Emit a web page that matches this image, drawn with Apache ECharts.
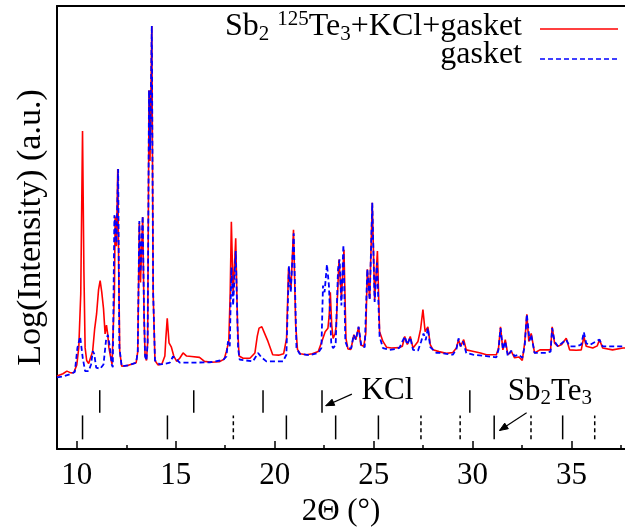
<!DOCTYPE html>
<html>
<head>
<meta charset="utf-8">
<script src="https://cdn.jsdelivr.net/npm/echarts@6/dist/echarts.min.js"></script>
<style>
html, body { margin: 0; padding: 0; background: #fff; }
#chart { width: 625px; height: 532px; }
</style>
</head>
<body>
<div id="chart"></div>
<script>
// 2Theta positions and log intensity (arbitrary units)
const redX = [9.0, 9.3, 9.5, 9.7, 9.85, 10.0, 10.1, 10.2, 10.29, 10.36, 10.42, 10.5, 10.6, 10.7, 10.8, 10.9, 11.0, 11.1, 11.18, 11.26,
  11.35, 11.43, 11.5, 11.56, 11.62, 11.7, 11.78, 11.85, 11.9, 11.94, 12.0, 12.07, 12.12, 12.17, 12.27, 12.6, 13.0, 13.08, 13.16, 13.22,
  13.33, 13.4, 13.45, 13.52, 13.58, 13.65, 13.7, 13.79, 13.86, 13.95, 14.1, 14.3, 14.45, 14.5, 14.57, 14.66, 14.78, 14.9, 15.05, 15.2,
  15.37, 15.55, 15.8, 16.2, 16.45, 16.8, 17.2, 17.45, 17.56, 17.68, 17.75, 17.81, 17.9, 18.03, 18.12, 18.2, 18.4, 18.75, 19.0, 19.12,
  19.21, 19.35, 19.5, 19.66, 19.9, 20.2, 20.45, 20.6, 20.7, 20.82, 20.95, 21.06, 21.15, 21.3, 21.6, 21.9, 22.2, 22.4, 22.55, 22.69,
  22.75, 22.81, 22.88, 22.95, 23.05, 23.11, 23.25, 23.37, 23.5, 23.6, 23.7, 23.85, 24.0, 24.1, 24.24, 24.35, 24.5, 24.6, 24.68, 24.8,
  24.93, 25.05, 25.19, 25.3, 25.47, 25.65, 25.9, 26.3, 26.45, 26.57, 26.7, 26.85, 26.99, 27.24, 27.37, 27.49, 27.6, 27.74, 27.86, 28.0,
  28.3, 28.67, 29.0, 29.18, 29.29, 29.39, 29.55, 29.68, 30.0, 30.4, 30.7, 31.2, 31.31, 31.41, 31.53, 31.65, 31.78, 31.95, 32.12, 32.34,
  32.51, 32.63, 32.74, 32.84, 32.96, 33.13, 33.4, 33.72, 33.94, 34.02, 34.14, 34.31, 34.5, 34.73, 34.9, 35.24, 35.49, 35.62, 35.74, 36.07,
  36.3, 36.41, 36.57, 37.07, 37.6, 37.7];
const redY = [16.5, 17.0, 17.6, 17.2, 17.3, 19.0, 22.9, 35.0, 71.8, 40.0, 22.9, 20.0, 19.3, 19.2, 22.0, 27.0, 30.5, 36.0, 38.0, 35.5,
  31.7, 26.0, 28.0, 26.0, 23.0, 21.0, 19.1, 18.8, 35.0, 52.5, 45.8, 63.2, 40.0, 22.0, 18.7, 18.9, 19.5, 22.0, 51.0, 37.6,
  52.4, 30.0, 21.0, 20.0, 24.0, 81.0, 65.0, 95.5, 35.0, 20.0, 19.0, 19.2, 21.0, 25.0, 29.5, 24.0, 23.0, 21.0, 19.8, 20.5,
  21.7, 21.0, 20.9, 20.7, 19.8, 19.6, 19.7, 20.3, 22.1, 24.3, 35.0, 51.3, 34.7, 47.6, 28.0, 21.0, 20.5, 20.5, 21.7, 25.5,
  27.3, 27.6, 26.0, 24.3, 21.3, 21.2, 21.5, 25.0, 41.0, 36.0, 49.5, 28.0, 22.5, 21.5, 21.3, 21.5, 22.0, 24.5, 26.5, 27.3,
  30.0, 35.4, 28.0, 25.0, 26.0, 28.0, 42.8, 33.9, 45.0, 25.0, 22.6, 22.5, 25.8, 24.7, 27.6, 23.5, 23.2, 26.0, 40.6, 33.9,
  55.6, 33.6, 44.7, 26.5, 24.3, 23.0, 22.8, 22.9, 23.2, 25.4, 23.6, 25.4, 22.8, 24.3, 27.0, 31.5, 26.5, 27.6, 23.6, 22.4,
  22.0, 21.6, 21.8, 22.8, 24.7, 23.2, 24.7, 22.4, 22.1, 21.7, 21.3, 21.3, 22.8, 27.6, 22.4, 24.7, 21.3, 22.1, 20.6, 20.8,
  20.0, 23.9, 30.4, 24.3, 26.1, 21.7, 22.4, 22.4, 22.4, 27.6, 23.9, 23.2, 23.6, 25.0, 22.4, 22.3, 22.4, 25.4, 23.2, 22.8,
  23.3, 24.7, 22.8, 22.4, 22.8, 22.8];

const blueX = [9.0, 9.3, 9.66, 9.9, 10.03, 10.17, 10.3, 10.42, 10.6, 10.72, 10.81, 10.88, 10.98, 11.18, 11.35, 11.48, 11.57, 11.68, 11.77, 11.82,
  11.9, 12.0, 12.09, 12.15, 12.27, 12.6, 13.0, 13.08, 13.16, 13.22, 13.33, 13.4, 13.45, 13.52, 13.58, 13.65, 13.71, 13.79, 13.86, 13.95,
  14.2, 14.5, 14.7, 14.86, 15.03, 15.2, 15.87, 16.72, 17.39, 17.56, 17.64, 17.73, 17.81, 17.9, 18.03, 18.15, 18.23, 18.9, 19.16, 19.33,
  19.58, 20.42, 20.59, 20.72, 20.81, 20.96, 21.1, 21.26, 21.77, 22.19, 22.36, 22.44, 22.52, 22.64, 22.74, 22.86, 22.95, 23.08, 23.2, 23.28,
  23.37, 23.47, 23.57, 23.7, 23.87, 23.99, 24.1, 24.24, 24.38, 24.55, 24.68, 24.8, 24.93, 25.05, 25.17, 25.3, 25.47, 25.81, 26.15, 26.31,
  26.57, 26.7, 26.85, 26.99, 27.24, 27.4, 27.52, 27.63, 27.74, 27.86, 28.17, 28.33, 29.0, 29.18, 29.29, 29.39, 29.52, 29.68, 30.02, 30.69,
  31.2, 31.31, 31.41, 31.53, 31.65, 31.78, 31.95, 32.12, 32.34, 32.51, 32.63, 32.74, 32.88, 32.96, 33.13, 33.72, 33.94, 34.02, 34.14, 34.31,
  34.73, 34.9, 35.24, 35.49, 35.62, 35.74, 35.91, 36.41, 36.57, 37.07, 37.6, 37.7];
const blueY = [16.2, 16.4, 16.9, 17.4, 22.8, 25.4, 20.6, 17.6, 17.6, 19.1, 22.1, 21.5, 18.4, 18.1, 19.1, 24.7, 25.8, 22.8, 19.0, 18.5,
  52.8, 46.5, 63.2, 23.0, 18.7, 18.9, 19.5, 22.0, 51.5, 40.0, 52.6, 30.0, 21.0, 20.0, 24.0, 81.0, 67.5, 95.5, 35.0, 20.0,
  19.1, 19.3, 19.5, 20.9, 20.3, 19.5, 19.5, 19.6, 20.1, 20.9, 24.3, 23.2, 41.0, 32.4, 44.7, 22.8, 20.2, 19.8, 21.7, 20.7,
  19.8, 19.8, 21.3, 41.3, 35.4, 48.7, 22.8, 21.5, 21.2, 21.7, 22.8, 36.9, 35.4, 41.7, 36.9, 23.6, 22.8, 23.5, 40.6, 42.8,
  32.4, 46.1, 24.3, 22.7, 22.8, 25.8, 24.7, 27.6, 23.2, 23.0, 40.6, 33.6, 55.6, 33.2, 42.1, 25.4, 22.8, 22.4, 22.6, 22.9,
  25.4, 23.6, 25.2, 22.4, 22.2, 24.3, 26.1, 24.6, 27.3, 23.0, 21.7, 21.7, 21.3, 22.5, 25.0, 23.2, 24.3, 21.7, 21.3, 21.0,
  20.7, 22.5, 27.3, 22.5, 24.3, 21.0, 22.2, 21.0, 21.3, 20.6, 23.2, 30.4, 24.5, 25.8, 21.7, 21.7, 22.0, 27.3, 24.3, 23.2,
  24.7, 23.2, 23.2, 23.6, 26.4, 23.9, 23.5, 24.7, 23.2, 23.2, 23.2, 23.2];

// reference reflection positions
const kclPeaks = [11.16, 15.91, 19.41, 22.39, 29.86];
const sbTePeaks = [10.29, 14.58, 20.59, 23.08, 25.24, 31.09, 34.55];
const sbTeWeak = [17.91, 27.39, 29.37, 32.95, 36.17];
const kclRow = [8.2, 13.3];
const sbTeRow = [2.2, 7.6];

// annotation arrows [x0, y0, x1(tip), y1(tip)] and label anchors
const arrows = [[23.9, 12.4, 22.58, 9.8], [32.73, 8.2, 31.36, 4.2]];
const labels = [[24.39, 13.2, '{n|KCl}'], [31.77, 13.0, '{n|Sb}{sub|2}{n|Te}{sub|3}']];

const majorTicks = [10, 15, 20, 25, 30, 35];
const minorTicks = [12.5, 17.5, 22.5, 27.5, 32.5, 37.5];

const FONT = 'Liberation Serif';

const rich = {
  n: { fontSize: 31, fontFamily: FONT, color: '#000', lineHeight: 34 },
  sub: { fontSize: 21, fontFamily: FONT, color: '#000', lineHeight: 16, verticalAlign: 'bottom' },
  sup: { fontSize: 21, fontFamily: FONT, color: '#000', lineHeight: 22, verticalAlign: 'top' }
};
const legendRich = {
  n: { fontSize: 32, fontFamily: FONT, color: '#000', lineHeight: 36 },
  sub: { fontSize: 21, fontFamily: FONT, color: '#000', lineHeight: 17, verticalAlign: 'bottom' },
  sup: { fontSize: 21, fontFamily: FONT, color: '#000', lineHeight: 23, verticalAlign: 'top' }
};

function zip(xs, ys) {
  return xs.map((x, i) => [x, ys[i]]);
}

function tickSeries(xs, row, dashed) {
  return {
    type: 'custom',
    silent: true,
    data: xs.map(x => [x, row[0], row[1]]),
    encode: { x: 0, y: [1, 2] },
    renderItem: function (params, api) {
      const p0 = api.coord([api.value(0), api.value(1)]);
      const p1 = api.coord([api.value(0), api.value(2)]);
      return {
        type: 'line',
        shape: { x1: p0[0], y1: p0[1], x2: p1[0], y2: p1[1] },
        style: { stroke: '#000', lineWidth: 1.5, lineDash: dashed ? [4, 3] : null }
      };
    }
  };
}

var myChart = echarts.init(document.getElementById('chart'), null, { renderer: 'canvas' });
var option = {
  animation: false,
  backgroundColor: '#fff',
  textStyle: { fontFamily: FONT },
  grid: { left: 57, right: 0, top: 6, bottom: 76, containLabel: false },
  xAxis: [
    {
      type: 'value', min: 9, max: 37.7, position: 'bottom',
      name: '2\u0398 (\u00b0)', nameLocation: 'middle', nameGap: 42,
      nameTextStyle: { fontSize: 31, fontFamily: FONT, color: '#000' },
      axisLine: { onZero: false, lineStyle: { color: '#000', width: 2 } },
      axisTick: { inside: true, length: 8, customValues: majorTicks, lineStyle: { color: '#000', width: 1.5 } },
      axisLabel: { customValues: majorTicks, fontSize: 31, fontFamily: FONT, color: '#000', margin: 11 },
      splitLine: { show: false }
    },
    {
      type: 'value', min: 9, max: 37.7, position: 'bottom',
      axisLine: { show: false, onZero: false },
      axisTick: { inside: true, length: 4, customValues: minorTicks, lineStyle: { color: '#000', width: 1.5 } },
      axisLabel: { show: false },
      splitLine: { show: false }
    },
    {
      type: 'value', min: 9, max: 37.7, position: 'top',
      axisLine: { show: true, onZero: false, lineStyle: { color: '#000', width: 2 } },
      axisTick: { show: false },
      axisLabel: { show: false },
      splitLine: { show: false }
    }
  ],
  yAxis: {
    type: 'value', min: 0, max: 100,
    name: 'Log(Intensity) (a.u.)', nameLocation: 'middle', nameGap: 9,
    nameTextStyle: { fontSize: 34, fontFamily: FONT, color: '#000' },
    axisLine: { show: true, onZero: false, lineStyle: { color: '#000', width: 2 } },
    axisTick: { show: false },
    axisLabel: { show: false },
    splitLine: { show: false }
  },
  series: [
    {
      name: 'Sb2 125Te3+KCl+gasket', type: 'line', data: zip(redX, redY),
      symbol: 'none', showSymbol: false,
      lineStyle: { color: '#ff0000', width: 1.6 }, z: 2
    },
    {
      name: 'gasket', type: 'line', data: zip(blueX, blueY),
      symbol: 'none', showSymbol: false,
      lineStyle: { color: '#0000ff', width: 1.8, type: [5, 3] }, z: 3
    },
    tickSeries(kclPeaks, kclRow, false),
    tickSeries(sbTePeaks, sbTeRow, false),
    tickSeries(sbTeWeak, sbTeRow, true),
    {
      type: 'custom', silent: true,
      data: arrows,
      encode: { x: [0, 2], y: [1, 3] },
      renderItem: function (params, api) {
        const a = api.coord([api.value(0), api.value(1)]);
        const b = api.coord([api.value(2), api.value(3)]);
        const ang = Math.atan2(a[1] - b[1], a[0] - b[0]);
        const h = 9, s = 0.38;
        return {
          type: 'group',
          children: [
            { type: 'line', shape: { x1: a[0], y1: a[1], x2: b[0], y2: b[1] }, style: { stroke: '#000', lineWidth: 1.2 } },
            {
              type: 'polygon',
              shape: { points: [
                [b[0] + h * Math.cos(ang + s), b[1] + h * Math.sin(ang + s)],
                [b[0], b[1]],
                [b[0] + h * Math.cos(ang - s), b[1] + h * Math.sin(ang - s)]
              ] },
              style: { fill: '#000', stroke: '#000', lineWidth: 1 }
            }
          ]
        };
      }
    },
    {
      type: 'custom', silent: true,
      data: labels,
      encode: { x: 0, y: 1 },
      renderItem: function (params, api) {
        const p = api.coord([api.value(0), api.value(1)]);
        return {
          type: 'text', x: p[0], y: p[1],
          style: { text: labels[params.dataIndex][2], rich: rich, align: 'left', verticalAlign: 'middle' }
        };
      }
    }
  ],
  graphic: [
    {
      type: 'text', x: 522, y: 26.5, silent: true,
      style: { text: '{n|Sb}{sub|2}{n| }{sup|125}{n|Te}{sub|3}{n|+KCl+gasket}', rich: legendRich, align: 'right', verticalAlign: 'middle' }
    },
    {
      type: 'text', x: 522, y: 55, silent: true,
      style: { text: '{n|gasket}', rich: legendRich, align: 'right', verticalAlign: 'middle' }
    },
    { type: 'line', silent: true, shape: { x1: 540, y1: 29, x2: 618, y2: 29 }, style: { stroke: '#ff0000', lineWidth: 1.5 } },
    { type: 'line', silent: true, shape: { x1: 540, y1: 59, x2: 618, y2: 59 }, style: { stroke: '#0000ff', lineWidth: 1.5, lineDash: [5, 3] } }
  ]
};
option && myChart.setOption(option);
</script>
</body>
</html>
